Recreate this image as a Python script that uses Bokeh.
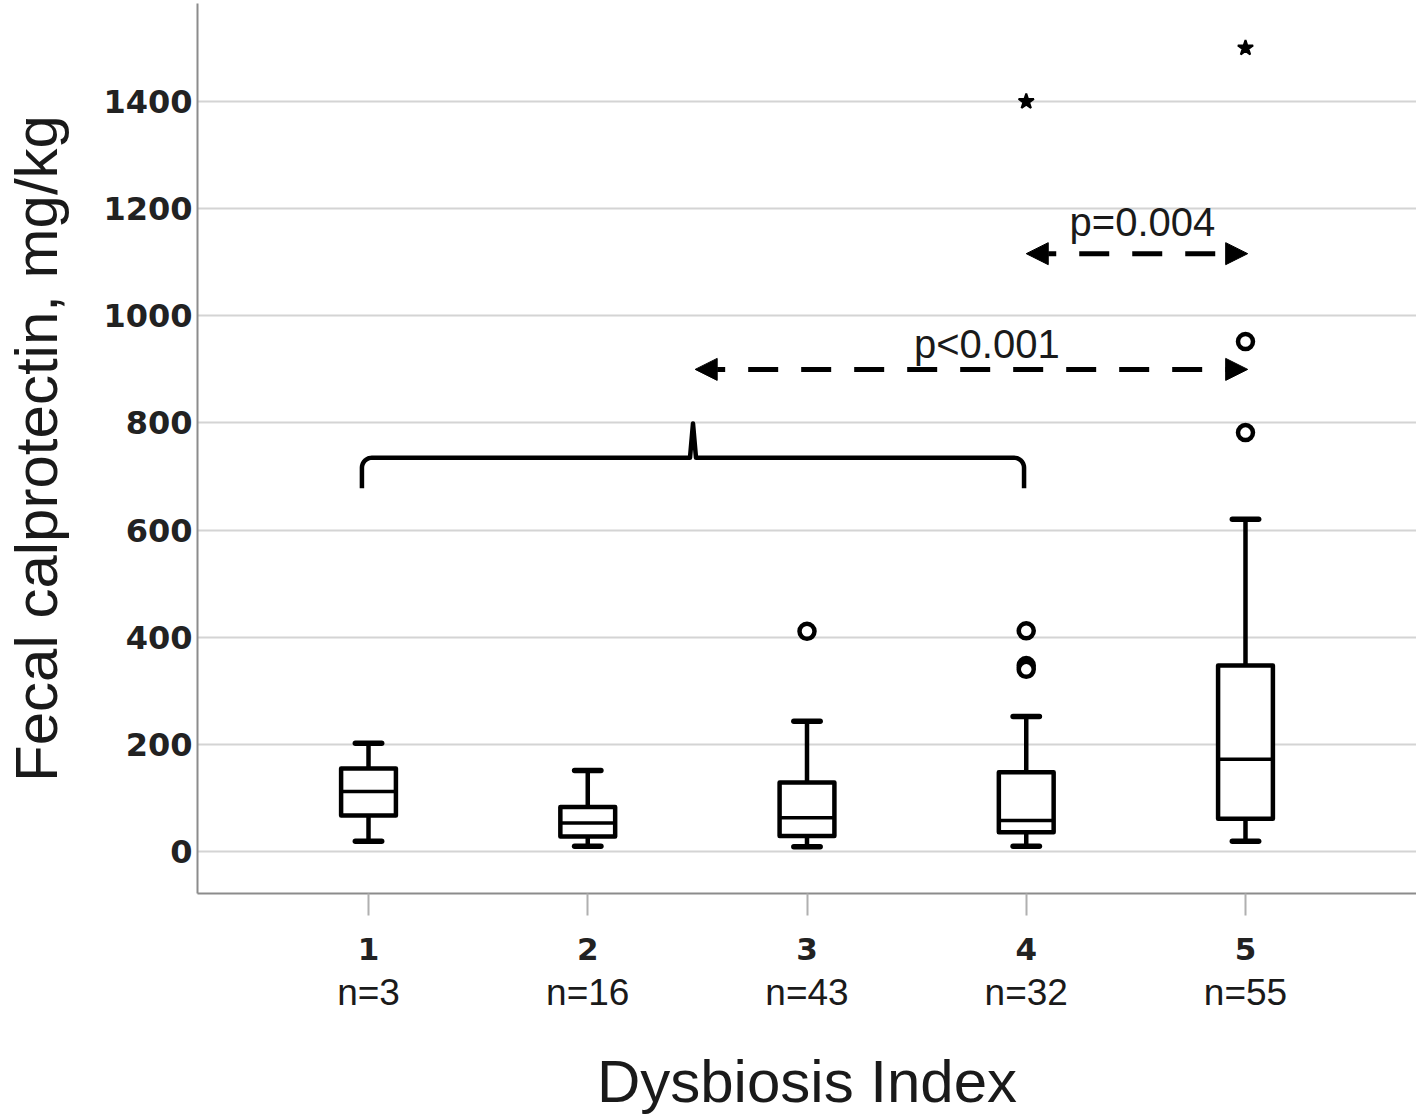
import numpy as np
from bokeh.plotting import figure
from bokeh.models import (Range1d, LinearAxis, FixedTicker, Arrow, NormalHead,
                          ColumnDataSource)
from bokeh.embed import file_html
from bokeh.resources import INLINE
from bokeh.core.properties import value

# ---------------- data ----------------
groups = [1, 2, 3, 4, 5]
n_labels = ["n=3", "n=16", "n=43", "n=32", "n=55"]
lower_whisker = [19, 10, 9, 10, 19]
q1 = [67, 28, 29, 36, 61]
median = [112, 53, 63, 58, 172]
q3 = [155, 83, 129, 148, 347]
upper_whisker = [202, 151, 243, 252, 620]

outlier_group = [3, 4, 4, 4, 5, 5]
outlier_value = [411, 412, 347, 340, 782, 952]
extreme_group = [4, 5]
extreme_value = [1400, 1500]

y_ticks = [0, 200, 400, 600, 800, 1000, 1200, 1400]

comp_from = [2.49, 4.0]
comp_to = [5.01, 5.01]
comp_level = [900, 1116]
comp_text = ["p<0.001", "p=0.004"]

# ---------------- figure ----------------
X0, X1 = 0.22, 5.78
Y0, Y1 = -78.4, 1583.0
FW, FH = 1219, 890
p = figure(frame_width=FW, frame_height=FH,
           x_range=Range1d(X0, X1), y_range=Range1d(Y0, Y1),
           output_backend="svg", toolbar_location=None, tools="",
           min_border_left=197, min_border_right=0, min_border_top=3,
           min_border_bottom=0)
p.outline_line_color = None
p.background_fill_color = "white"
p.border_fill_color = "white"

# grid
p.xgrid.visible = False
p.ygrid.ticker = FixedTicker(ticks=y_ticks)
p.ygrid.grid_line_color = "#d4d4d4"
p.ygrid.grid_line_width = 2

# y axis
ya = p.yaxis[0]
ya.ticker = FixedTicker(ticks=y_ticks)
ya.axis_line_color = "#8c8c8c"
ya.axis_line_width = 2
ya.major_tick_out = 0
ya.major_tick_in = 0
ya.minor_tick_line_color = None
ya.major_label_standoff = 5
ya.major_label_text_font = "DejaVu Sans"
ya.major_label_text_font_style = "bold"
ya.major_label_text_font_size = "32px"
ya.major_label_text_color = "#222222"
ya.axis_label = "Fecal calprotectin, mg/kg"
ya.axis_label_text_font = "Liberation Sans"
ya.axis_label_text_font_style = "normal"
ya.axis_label_text_font_size = "60px"
ya.axis_label_text_color = "#1a1a1a"
ya.axis_label_standoff = 30

# x axis (category numbers)
xa = p.xaxis[0]
xa.ticker = FixedTicker(ticks=groups)
xa.axis_line_color = "#8c8c8c"
xa.axis_line_width = 2
xa.major_tick_out = 22
xa.major_tick_in = 0
xa.major_tick_line_color = "#b0b0b0"
xa.major_tick_line_width = 2
xa.minor_tick_line_color = None
xa.major_label_standoff = 22
xa.major_label_text_font = "DejaVu Sans"
xa.major_label_text_font_style = "bold"
xa.major_label_text_font_size = "31px"
xa.major_label_text_color = "#222222"

# second x axis for sample sizes
xa2 = LinearAxis(ticker=FixedTicker(ticks=groups),
                 major_label_overrides={g: lab for g, lab in zip(groups, n_labels)})
xa2.axis_line_color = None
xa2.major_tick_line_color = None
xa2.minor_tick_line_color = None
xa2.major_label_standoff = 3
xa2.major_label_text_font = "Liberation Sans"
xa2.major_label_text_font_size = "37px"
xa2.major_label_text_color = "#1a1a1a"
xa2.axis_label = "Dysbiosis Index"
xa2.axis_label_text_font = "Liberation Sans"
xa2.axis_label_text_font_style = "normal"
xa2.axis_label_text_font_size = "60px"
xa2.axis_label_text_color = "#1a1a1a"
xa2.axis_label_standoff = 32
p.add_layout(xa2, "below")

# ---------------- boxes ----------------
box_w = 0.25
cap_w = 0.12
src = ColumnDataSource(dict(x=groups, lw=lower_whisker, q1=q1, med=median,
                            q3=q3, uw=upper_whisker,
                            xl=[g - box_w / 2 for g in groups],
                            xr=[g + box_w / 2 for g in groups],
                            cl=[g - cap_w / 2 for g in groups],
                            cr=[g + cap_w / 2 for g in groups]))

p.segment(x0="x", x1="x", y0="q3", y1="uw", source=src, line_color="black", line_width=4.5)
p.segment(x0="x", x1="x", y0="q1", y1="lw", source=src, line_color="black", line_width=4.5)
p.segment(x0="cl", x1="cr", y0="uw", y1="uw", source=src, line_color="black",
          line_width=5.5, line_cap="round")
p.segment(x0="cl", x1="cr", y0="lw", y1="lw", source=src, line_color="black",
          line_width=5.5, line_cap="round")
p.vbar(x="x", width=box_w, bottom="q1", top="q3", source=src, fill_color="white",
       line_color="black", line_width=4.5, line_join="round")
p.segment(x0="xl", x1="xr", y0="med", y1="med", source=src, line_color="black", line_width=3.5)

# outliers and extremes
p.scatter(outlier_group, outlier_value, marker="circle", size=15, fill_color="white",
          line_color="black", line_width=4.5)
p.scatter(extreme_group, extreme_value, marker="star", size=16, fill_color="black",
          line_color="black", line_width=2)

# ---------------- brace ----------------
brace_left, brace_right, brace_mid = 0.97, 3.99, 2.48
brace_level, brace_drop, brace_tip = 735, 678, 799
px_x = (X1 - X0) / FW
px_y = (Y1 - Y0) / FH
rx, ry = 10 * px_x, 10 * px_y
th_l = np.linspace(np.pi, np.pi / 2, 12)
th_r = np.linspace(np.pi / 2, 0, 12)
cxl, cy = brace_left + rx, brace_level - ry
cxr = brace_right - rx
bx = ([brace_left] + list(cxl + rx * np.cos(th_l)) +
      [brace_mid - 3 * px_x, brace_mid, brace_mid + 3 * px_x] +
      list(cxr + rx * np.cos(th_r)) + [brace_right])
by = ([brace_drop] + list(cy + ry * np.sin(th_l)) +
      [brace_level, brace_tip, brace_level] +
      list(cy + ry * np.sin(th_r)) + [brace_drop])
p.line(bx, by, line_color="black", line_width=4.5, line_join="round")

# ---------------- comparison arrows ----------------
for x0, x1, yl in zip(comp_from, comp_to, comp_level):
    p.add_layout(Arrow(x_start=x0, y_start=yl, x_end=x1, y_end=yl,
                       line_color="black", line_width=5, line_dash="30 23",
                       start=NormalHead(size=22, fill_color="black", line_color="black", line_width=1),
                       end=NormalHead(size=22, fill_color="black", line_color="black", line_width=1)))

label_x = [3.82, 4.53]
label_y = [948, 1176]
p.text(x=label_x, y=label_y, text=comp_text, text_align="center", text_baseline="middle",
       text_font=value("Liberation Sans"), text_font_size="40px", text_color="#1a1a1a")

open("out.html", "w").write(file_html(p, INLINE))
